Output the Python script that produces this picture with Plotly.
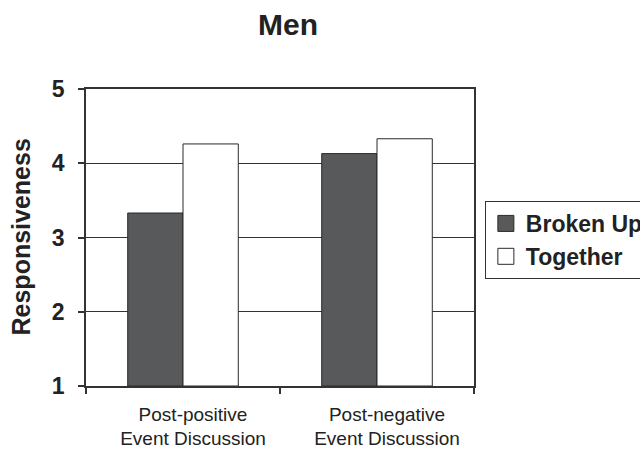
import plotly.graph_objects as go

categories = ["Post-positive<br>Event Discussion", "Post-negative<br>Event Discussion"]
series_names = ["Broken Up", "Together"]
broken_up = [3.33, 4.13]
together = [4.26, 4.33]
y_ticks = [1, 2, 3, 4, 5]
y_title = "Responsiveness"

FONT = "Arial, Liberation Sans, Helvetica, sans-serif"
DARK = "#58595b"
EDGE = "#2a2a2a"
fills = [DARK, "#ffffff"]

fig = go.Figure()
for name, vals, col in zip(series_names, [broken_up, together], fills):
    fig.add_trace(go.Bar(
        x=categories, y=[v - 1 for v in vals], base=1, name=name,
        marker=dict(color=col, line=dict(color=EDGE, width=1)),
        showlegend=False,
    ))
for name, col in zip(series_names, fills):
    fig.add_trace(go.Scatter(
        x=[None], y=[None], mode="markers", name="<b>" + name + "</b>",
        marker=dict(symbol="square", size=16, color=col, line=dict(color=EDGE, width=1)),
    ))

fig.update_layout(
    width=640, height=450,
    margin=dict(l=86, r=166, t=89, b=64, autoexpand=False),
    paper_bgcolor="white", plot_bgcolor="white",
    barmode="group", bargap=0.43, bargroupgap=0,
    font=dict(family=FONT, color="#222222"),
    title=dict(text="<b>Men</b>", x=0.45, xref="container", xanchor="center",
               y=1 - 24 / 450, yref="container", yanchor="middle",
               font=dict(size=30, family=FONT, color="#222222")),
    legend=dict(x=1.028, xanchor="left", y=0.623, yanchor="top",
                bordercolor="#333333", borderwidth=1, bgcolor="white",
                font=dict(size=23, family=FONT, color="#222222"),
                itemsizing="trace", tracegroupgap=0),
    showlegend=True,
    annotations=[dict(text="<b>" + y_title + "</b>", xref="paper", yref="paper",
                      x=(20 - 86) / 388, y=0.5, xanchor="center", yanchor="middle",
                      textangle=-90, showarrow=False,
                      font=dict(size=25, family=FONT, color="#222222"))],
)
fig.update_xaxes(
    type="category", showline=True, linecolor="#333333", linewidth=1.5, mirror=True,
    ticks="outside", ticklen=6, tickcolor="#333333", tickwidth=1.5,
    tickson="boundaries", showgrid=False, automargin=False,
    tickfont=dict(size=19, family=FONT, color="#222222"),
    ticklabelstandoff=10, ticklabelshift=10,
)
fig.update_yaxes(
    range=[1, 5], tickvals=y_ticks, ticktext=["<b>%d</b>" % t for t in y_ticks],
    showline=True, linecolor="#333333", linewidth=1.5, mirror=True,
    ticks="outside", ticklen=6, tickcolor="#333333", tickwidth=1.5,
    showgrid=True, gridcolor="#333333", gridwidth=1, automargin=False,
    tickfont=dict(size=23, family=FONT, color="#222222"),
    ticklabelstandoff=9,
    zeroline=False,
)
fig.write_html("out.html", config={"displayModeBar": False},
               post_script="document.body.style.margin='0px';")
